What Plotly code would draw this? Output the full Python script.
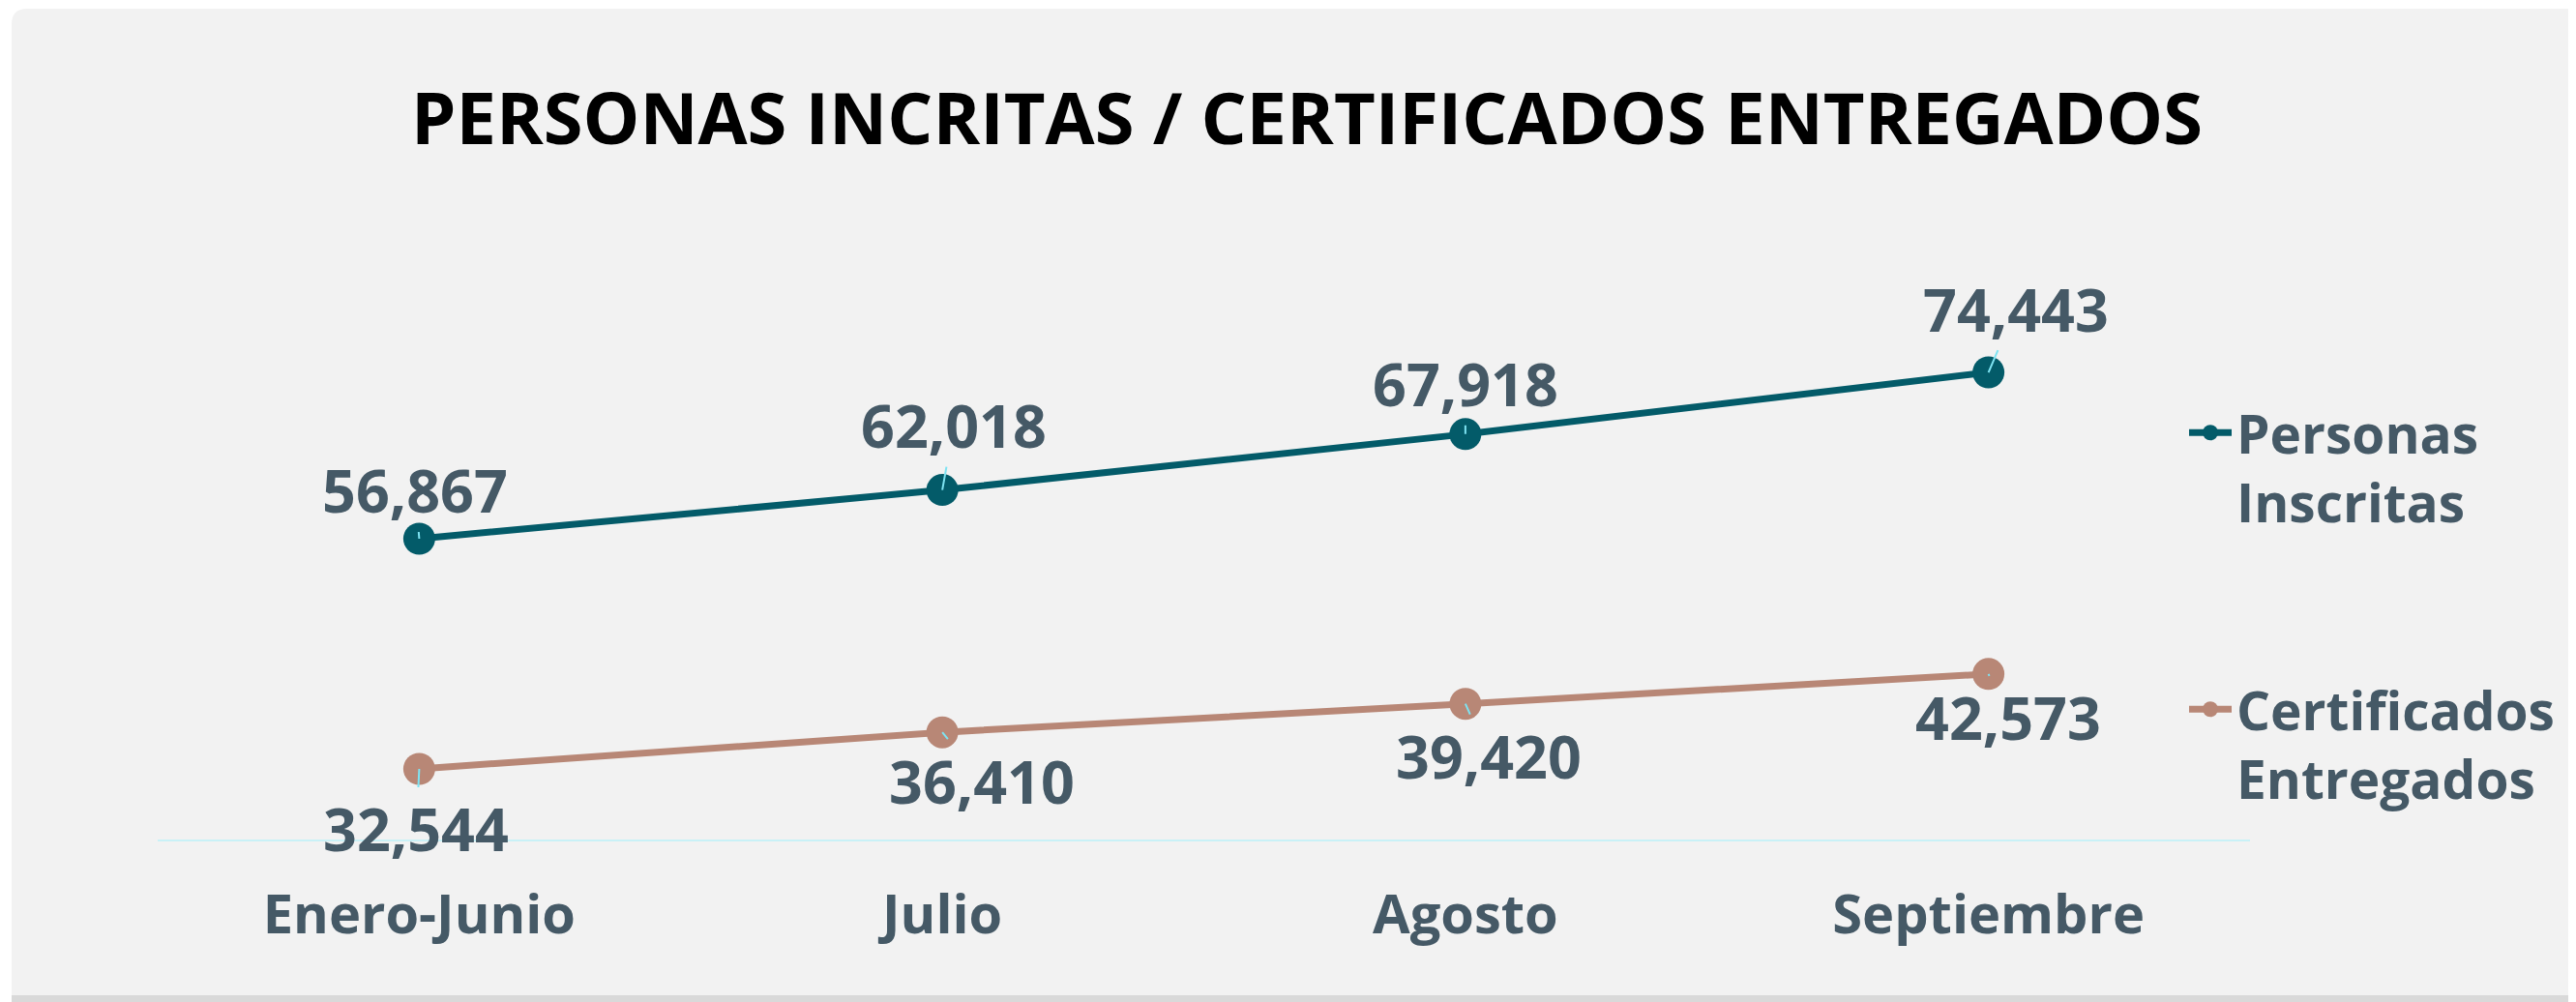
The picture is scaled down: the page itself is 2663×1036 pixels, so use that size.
import plotly.graph_objects as go

# ---- data ----
categories = ["Enero-Junio", "Julio", "Agosto", "Septiembre"]
personas_inscritas = [56867, 62018, 67918, 74443]
certificados_entregados = [32544, 36410, 39420, 42573]
series_names = ["Personas<br>Inscritas", "Certificados<br>Entregados"]
title_text = "PERSONAS INCRITAS / CERTIFICADOS ENTREGADOS"

# label offsets (px) relative to each point
personas_offsets = [(-4, -50), (12, -67), (0, -52), (28, -66)]
cert_offsets = [(-3, 62), (41, 50), (24, 54), (20, 45)]

# ---- style ----
OFF = 8  # page body margin
PW, PH = 2663, 1036           # page size
W, H = PW - OFF, PH - OFF     # figure size
PL, PR, PT, PB = 163, 2326, 333, 868   # plot area in page px
L, T = PL - OFF, PT - OFF
R, B = W - (PR - OFF), H - (PB - OFF)
FONT = "Open Sans"
TXT = "#455966"
C1 = "#035b69"
C2 = "#b88776"
LEADER = "#7ee3f2"

def px_x(p):  # page px -> paper
    return (p - PL) / (PR - PL)

def px_y(p):
    return (PB - p) / (PB - PT)

fig = go.Figure()
for name, vals, col in [(series_names[0], personas_inscritas, C1),
                        (series_names[1], certificados_entregados, C2)]:
    fig.add_trace(go.Scatter(
        x=categories, y=vals, name=name, mode="lines+markers",
        legendgroup=name,
        line=dict(color=col, width=7),
        marker=dict(color=col, size=33),
        hoverinfo="skip",
    ))

annotations = []
for vals, offs in [(personas_inscritas, personas_offsets),
                   (certificados_entregados, cert_offsets)]:
    for c, v, (ax, ay) in zip(categories, vals, offs):
        annotations.append(dict(
            x=c, y=v, xref="x", yref="y", text=f"{v:,}",
            showarrow=True, arrowhead=0, arrowwidth=2, arrowcolor=LEADER,
            ax=ax, ay=ay, standoff=0,
            font=dict(family=FONT, size=61, color=TXT, weight="bold"),
        ))

# panel background with rounded top-left corner + bottom shadow
x0, y0, x1, y1, r = 12, 9, 2700, 1029, 16
path = (f"M {px_x(x0)},{px_y(y0 + r)} Q {px_x(x0)},{px_y(y0)} {px_x(x0 + r)},{px_y(y0)} "
        f"L {px_x(x1)},{px_y(y0)} L {px_x(x1)},{px_y(y1)} L {px_x(x0)},{px_y(y1)} Z")
shapes = [
    dict(type="path", path=path, xref="paper", yref="paper", layer="below",
         fillcolor="#f2f2f2", line=dict(width=0)),
    dict(type="rect", xref="paper", yref="paper", layer="below",
         x0=px_x(x0), x1=px_x(x1), y0=px_y(1029), y1=px_y(1045),
         fillcolor="#d9d9d9", line=dict(width=0)),
]

fig.update_layout(
    width=W, height=H,
    margin=dict(l=L, r=R, t=T, b=B, autoexpand=False),
    paper_bgcolor="white", plot_bgcolor="rgba(0,0,0,0)",
    title=dict(text=f"<b>{title_text}</b>", x=(1351 - OFF) / W, xanchor="center",
               y=1 - (123 - OFF) / H, yanchor="middle", xref="container", yref="container",
               font=dict(family=FONT, size=74, color="black")),
    xaxis=dict(type="category", range=[-0.5, 3.5], showgrid=False, zeroline=False,
               showline=True, linecolor="#c9f1f7", linewidth=2, ticks="",
               tickfont=dict(family=FONT, size=56, color=TXT, weight="bold"),
               ticklabelstandoff=28, fixedrange=True),
    yaxis=dict(range=[25080, 79760], visible=False, fixedrange=True),
    legend=dict(x=px_x(2258), xanchor="left", y=px_y(405), yanchor="top",
                valign="top", tracegroupgap=140, itemwidth=44, bgcolor="rgba(0,0,0,0)",
                font=dict(family=FONT, size=55, color=TXT, weight="bold")),
    annotations=annotations,
    shapes=shapes,
    showlegend=True,
)

fig.write_html("out.html")
